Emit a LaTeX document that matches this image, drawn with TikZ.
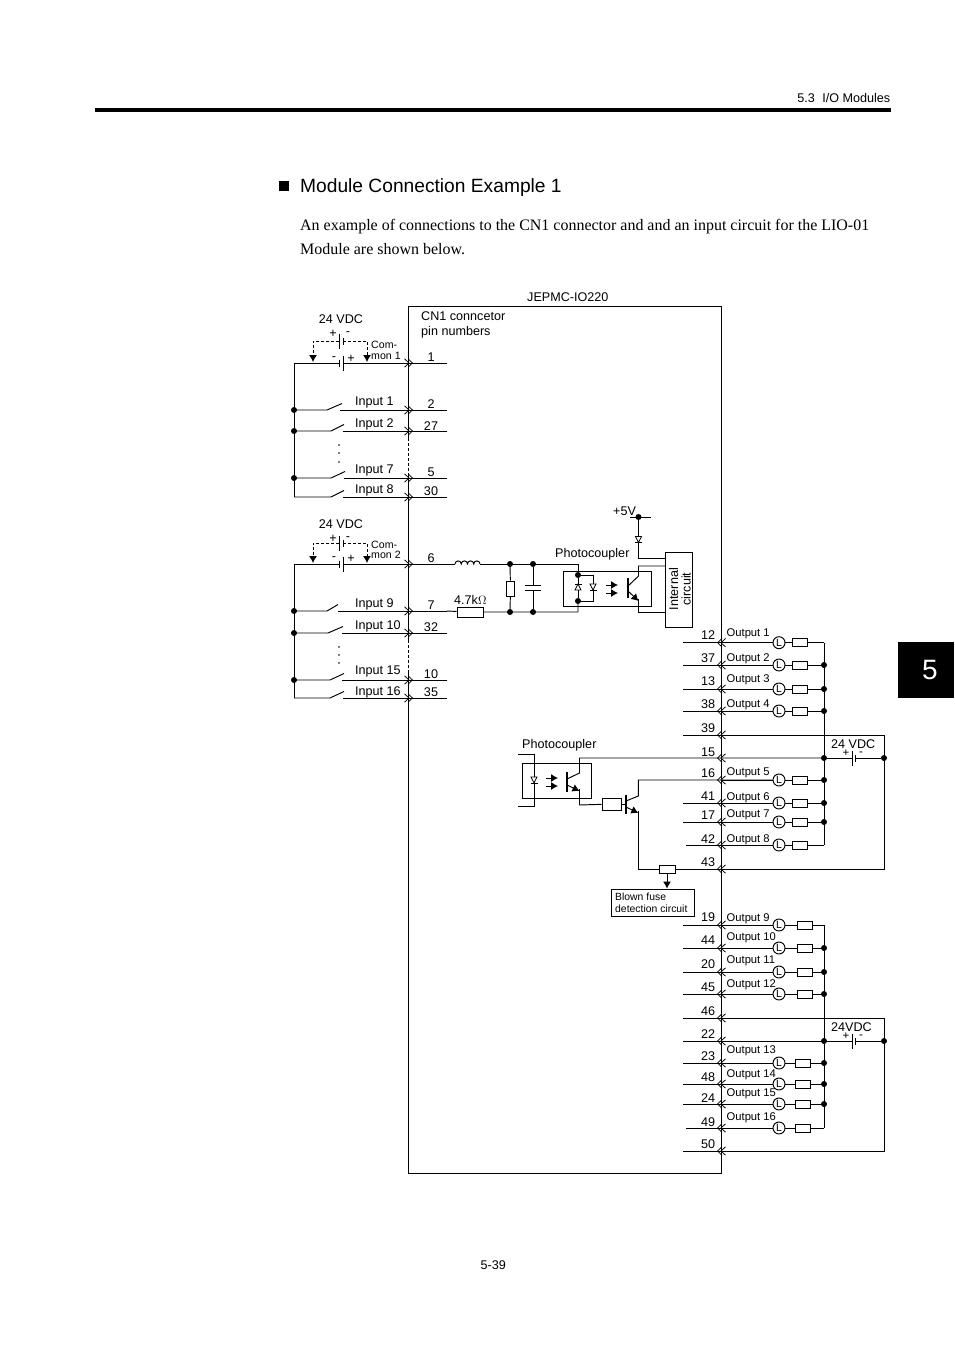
\documentclass[tikz,border=0pt]{standalone}
\usepackage{fontspec}
\setmainfont{Liberation Sans}
\newfontfamily\serifface{Liberation Serif}
\usetikzlibrary{arrows.meta}
\newcommand{\fs}[1]{\fontsize{#1}{#1}\selectfont}
\tikzset{
  wire/.style={line width=0.95pt,line cap=butt,line join=miter},
  dash wire/.style={wire,dash pattern=on 3pt off 2pt},
  lab/.style={inner sep=0pt,yshift=-1pt,font=\fs{12.6}},
  small/.style={inner sep=0pt,yshift=-1pt,font=\fs{11.2}},
  dotn/.style={circle,fill=black,inner sep=0pt,minimum size=6pt},
  fusebox/.style={draw,line width=0.95pt,fill=white,inner sep=0pt,minimum width=15pt,minimum height=8pt},
  lamp/.style={draw,line width=0.95pt,circle,fill=white,inner sep=0pt,minimum size=12pt,font=\fs{10.5}},
  filltip/.style={-{Latex[length=7pt,width=8pt]}},
  dblright/.pic={\draw[line width=0.75pt] (-4,-4.2)--(0.5,0)--(-4,4.2) (-0.5,-4.2)--(4,0)--(-0.5,4.2);},
  dblleft/.pic={\draw[line width=0.75pt] (1,-4.2)--(-3.5,0)--(1,4.2) (4.5,-4.2)--(0,0)--(4.5,4.2);},
  diodeup/.pic={\draw[line width=0.8pt,fill=white] (-3,3)--(3,3)--(0,-3)--cycle; \draw[line width=0.8pt] (-3.5,-3)--(3.5,-3);},
  diodedown/.pic={\draw[line width=0.8pt,fill=white] (-3,-3)--(3,-3)--(0,3)--cycle; \draw[line width=0.8pt] (-3.5,3)--(3.5,3);},
}
\begin{document}
\begin{tikzpicture}[x=1pt,y=-1pt]
\useasboundingbox[fill=white] (0,0) rectangle (954,1351);
% page furniture
\fill (95,108.3) rectangle (890.5,112.3);
\node[anchor=east,inner sep=0pt,yshift=-0.5pt,font=\fs{12.6}] (hdr) at (890.5,97) {5.3\hspace{0.6em}I/O Modules};
\fill (898,642) rectangle (954,698);
\node[inner sep=0pt,text=white,font=\fs{28}] (tab) at (930,670) {5};
\fill (278.5,181) rectangle (288.5,191);
\node[anchor=west,inner sep=0pt,yshift=-1.5pt,font=\fs{19.2}] (title) at (300,186) {Module Connection Example 1};
\node[anchor=west,inner sep=0pt,yshift=-1.5pt,font=\serifface\fs{15.97}] (para1) at (300,225) {An example of connections to the CN1 connector and and an input circuit for the LIO-01};
\node[anchor=west,inner sep=0pt,yshift=-0.5pt,font=\serifface\fs{15.97}] (para2) at (300,249) {Module are shown below.};
\node[anchor=east,inner sep=0pt,font=\fs{12.6}] (foot) at (506,1265) {5-39};
\node[lab,anchor=west] (jepmc) at (527,296) {JEPMC-IO220};
\node[lab,anchor=west] (cn1a) at (421,315) {CN1 conncetor};
\node[lab,anchor=west] (cn1b) at (421,331) {pin numbers};

% module box
\coordinate (bx1) at (408.5,306); \coordinate (bx2) at (721,306);
\coordinate (bx3) at (721,1173); \coordinate (bx4) at (408.5,1173);
\coordinate (bx5) at (408.5,673); \coordinate (bx6) at (408.5,640);
\coordinate (bx7) at (408.5,473); \coordinate (bx8) at (408.5,438);
\draw[wire] (bx8)--(bx1)--(bx2)--(bx3)--(bx4)--(bx5);
\draw[wire] (bx6)--(bx7);
\draw[dash wire] (bx8)--(bx7);
\draw[dash wire] (bx6)--(bx5);

% input rows: name / y / lever start / lever end / stub start / label / label y / pin / pin y
\foreach \n/\y/\xa/\xb/\xc/\tx/\ly/\pn/\py in {
  a/410/327/342/340/Input 1/401/2/403,
  b/431/331/344/343/Input 2/423/27/425,
  c/478/331/345/344/Input 7/469/5/471,
  d/497/331/344/343/Input 8/489/30/490,
  e/611/327/338/338/Input 9/603/7/604,
  f/633/328/343/342/Input 10/625/32/626,
  g/680/330/344/342/Input 15/670/10/673,
  h/698/330/344/343/Input 16/691/35/691}{
  \coordinate (ia\n) at (294,\y);
  \coordinate (ib\n) at (\xa,\y);
  \coordinate (ic\n) at (\xb,\y-6.5);
  \coordinate (id\n) at (\xc,\y);
  \coordinate (ie\n) at (446.5,\y);
  \draw[wire] (ia\n)--(ib\n)--(ic\n);
  \draw[wire] (id\n)--(ie\n);
  \pic at (408.5,\y) {dblright};
  \node[lab,anchor=west] (il\n) at (355,\ly) {\tx};
  \node[lab] (ip\n) at (431,\py) {\pn};
}
\foreach \n in {a,b,c,e,f,g} \node[dotn] (dt\n) at (ia\n) {};

% common rows
\foreach \n/\yl/\yu/\yt/\ya/\yb/\pn/\py/\c/\ycm/\ymn in {
  p/363/341/318.5/333/358/1/356/1/344/355.5,
  q/564/543/523.5/538/558/6/557.5/2/544/554}{
  \coordinate (cs\n) at (294,\yl);
  \coordinate (cl\n) at (339,\yl);
  \coordinate (cr\n) at (343,\yl);
  \coordinate (ce\n) at (446.5,\yl);
  \coordinate (du\n) at (339.3,\yu);
  \coordinate (dv\n) at (343.3,\yu);
  \coordinate (dl\n) at (313,\yu);
  \coordinate (dr\n) at (367,\yu);
  \coordinate (dla\n) at (313,\yl-1);
  \coordinate (dra\n) at (367,\yl-1);
  \draw[wire] (cs\n)--(cl\n) (cr\n)--(ce\n);
  \draw[wire] (339,\yl-3.5)--(339,\yl+3.5);
  \draw[wire] (343,\yl-7.5)--(343,\yl+7.5);
  \draw[wire] (339.3,\yu-7.5)--(339.3,\yu+7.5);
  \draw[wire] (343.3,\yu-3.5)--(343.3,\yu+3.5);
  \draw[dash wire,filltip] (du\n)--(dl\n)--(dla\n);
  \draw[dash wire,filltip] (dv\n)--(dr\n)--(dra\n);
  \pic at (408.5,\yl) {dblright};
  \node[lab] (cv\n) at (341,\yt) {24 VDC};
  \node[lab] (cpa\n) at (333,\ya) {+};
  \node[lab] (cma\n) at (348,\ya) {-};
  \node[lab] (cmb\n) at (334,\yb) {-};
  \node[lab] (cpb\n) at (351,\yb) {+};
  \node[inner sep=0pt,yshift=-0.5pt,font=\fs{10.6},anchor=west] (cca\n) at (371,\ycm) {Com-};
  \node[inner sep=0pt,yshift=-0.5pt,font=\fs{10.6},anchor=west] (ccb\n) at (371,\ymn) {mon \c};
  \node[lab] (cpn\n) at (431,\py) {\pn};
}
\draw[wire] (csp)--(iad);
\draw[wire] (csq)--(iah);
\foreach \n/\y in {a/445,b/453,c/462,d/647,e/655,f/663}
  \fill (339,\y) circle[radius=0.9];

% input circuit
\coordinate (w1) at (455,564); \coordinate (w2) at (480,564);
\coordinate (w3) at (578,564); \coordinate (w4) at (578,612);
\draw[wire] (ceq)--(w1);
\draw[wire] (w1) arc[start angle=180,end angle=360,radius=3.125] arc[start angle=180,end angle=360,radius=3.125]
  arc[start angle=180,end angle=360,radius=3.125] arc[start angle=180,end angle=360,radius=3.125];
\node[dotn] (j1) at (510,564) {};
\node[dotn] (j2) at (533,564) {};
\node[dotn] (j3) at (510,612) {};
\node[dotn] (j4) at (533,612) {};
\node[dotn] (j5) at (578,575) {};
\node[dotn] (j6) at (578,601) {};
\node[draw,line width=0.95pt,fill=white,inner sep=0pt,minimum width=26pt,minimum height=10pt] (r47) at (470,612) {};
\node[draw,line width=0.95pt,fill=white,inner sep=0pt,minimum width=8pt,minimum height=15pt] (r2) at (510.5,588.5) {};
\draw[wire] (w2)--(w3)--(j5);
\draw[wire] (iee)--(r47)--(w4)--(j6);
\draw[wire] (j1)--(r2)--(j3);
\coordinate (c1) at (533,585); \coordinate (c2) at (533,590);
\draw[wire] (j2)--(c1) (c2)--(j4);
\draw[wire] (525,585)--(541,585) (525,590)--(541,590);
\node[lab,anchor=west] (r47t) at (454,599) {4.7k$\Omega$};
\node[lab,anchor=west] (pc1) at (555,553) {Photocoupler};
\draw[wire] (563,571) rectangle (651,606);
\draw[wire] (j5)--(j6);
\coordinate (d2a) at (593,575); \coordinate (d2b) at (593,601);
\draw[wire] (j5)--(d2a)--(d2b)--(j6);
\pic at (578,587) {diodeup};
\pic at (593,587) {diodedown};
\draw[wire,filltip] (606,585)--(618,585);
\draw[wire,filltip] (606,593)--(618,593);
\draw[line width=1.1pt] (628,578)--(628,598);
% internal circuit
\node[draw,line width=0.95pt,fill=white,inner sep=0pt,minimum width=26.5pt,minimum height=75pt] (ic) at (678.75,589.5) {};
\node[inner sep=0pt,font=\fs{12.6},rotate=90] (ict1) at (673.5,589) {Internal};
\node[inner sep=0pt,font=\fs{12.6},rotate=90] (ict2) at (686,589) {circuit};
\coordinate (tc) at (638.5,566); \coordinate (tcr) at (665.5,566);
\coordinate (te) at (638.5,612); \coordinate (ter) at (665.5,612);
\coordinate (tb1) at (628,586); \coordinate (tb2) at (628,591);
\draw[wire] (tb1)--(638.5,576)--(tc)--(tcr);
\draw[wire,filltip] (tb2)--(638.5,601);
\draw[wire] (638.5,599)--(te)--(ter);
\node[dotn] (j5v) at (638.5,517) {};
\coordinate (v5a) at (630,517); \coordinate (v5b) at (651,517);
\draw[wire] (v5a)--(v5b);
\coordinate (v5c) at (638.5,558); \coordinate (v5d) at (665.5,558);
\draw[wire] (j5v)--(v5c)--(v5d);
\pic at (638.5,539.5) {diodedown};
\node[lab,anchor=west] (v5t) at (613,510) {+5V};

% output rows: name / y / pin / pin y / label / label y / fuse centre
\foreach \n/\y/\pn/\py/\tx/\ly/\fc in {
  a/642.7/12/634/Output 1/633/799.5,
  b/665/37/657/Output 2/658/799.5,
  c/689/13/680/Output 3/679/799.5,
  d/711/38/703/Output 4/704/799.5,
  e/780/16/772/Output 5/772/799.5,
  f/803/41/795/Output 6/797/799.5,
  g/822/17/814/Output 7/814/799.5,
  h/845/42/838/Output 8/839/799.5,
  i/925/19/916/Output 9/918/804.5,
  j/948/44/939/Output 10/937/804.5,
  k/972/20/963/Output 11/960/804.5,
  l/994/45/986/Output 12/984/804.5,
  m/1063/23/1055/Output 13/1050/803,
  n/1084/48/1076/Output 14/1074/803,
  o/1104/24/1097/Output 15/1093/803,
  p/1128/49/1121/Output 16/1117/803}{
  \coordinate (os\n) at (683,\y);
  \coordinate (ob\n) at (824,\y);
  \node[lamp] (ol\n) at (779,\y) {L};
  \node[fusebox] (of\n) at (\fc,\y) {};
  \draw[wire] (ol\n)--(of\n)--(ob\n);
  \draw[wire] (721,\y)--(ol\n);
  \pic at (721,\y) {dblleft};
  \node[small,anchor=west] (ot\n) at (726.5,\ly) {\tx};
  \node[lab] (on\n) at (708,\py) {\pn};
}
\foreach \n in {a,b,c,d,f,g,i,j,k,l,m,n,o} \draw[wire] (os\n)--(721,|-os\n);
\coordinate (osh2) at (686,845); \draw[wire] (osh2)--(721,845);
\coordinate (osp2) at (686,1128); \draw[wire] (osp2)--(721,1128);
% buses and supplies
\foreach \n/\top/\bot/\lt/\lm/\lb/\tt/\ty/\pa/\pb/\pc/\pd/\pe in {
  s/oba/obh/735/758/869/24 VDC/743.5/39/727/15/751/43,
  t/obi/obp/1018/1041/1151/24VDC/1026.5/46/1010/22/1033/50}{
  \draw[wire] (\top)--(\bot);
  \coordinate (lpA\n) at (683,\lt);
  \coordinate (lpB\n) at (884,\lt);
  \coordinate (lpC\n) at (884,\lb);
  \coordinate (lpD\n) at (721,\lb);
  \draw[wire] (lpA\n)--(lpB\n)--(lpC\n)--(lpD\n);
  \node[dotn] (bl\n) at (824,\lm) {};
  \node[dotn] (br\n) at (884,\lm) {};
  \coordinate (bt\n) at (852,\lm); \coordinate (bu\n) at (855.3,\lm);
  \draw[wire] (bl\n)--(bt\n) (bu\n)--(br\n);
  \draw[wire] (852,\lm-7.5)--(852,\lm+7.5);
  \draw[wire] (855.3,\lm-3.5)--(855.3,\lm+3.5);
  \node[lab,anchor=west] (bv\n) at (831,\ty) {\tt};
  \node[inner sep=0pt,font=\fs{11.5}] (bp\n) at (846,\ty+10) {+};
  \node[inner sep=0pt,font=\fs{11.5}] (bm\n) at (861,\ty+10) {-};
  \pic at (721,\lt) {dblleft};
  \pic at (721,\lm) {dblleft};
  \pic at (721,\lb) {dblleft};
  \node[lab] (pna\n) at (708,\pb) {\pa};
  \node[lab] (pnb\n) at (708,\pd) {\pc};
  \node[lab] (pnc\n) at (708,\lb-8) {\pe};
}
\foreach \n in {b,c,d,e,f,g,j,k,l,m,n,o} \node[dotn] (dot\n) at (ob\n) {};
\coordinate (s22) at (683,1041); \draw[wire] (s22)--(blt);
\coordinate (s50) at (683,1151); \draw[wire] (s50)--(lpDt);

% output circuit
\node[lab,anchor=west] (pc2) at (522,744) {Photocoupler};
\draw[wire] (522,763) rectangle (591,798);
\coordinate (q1) at (518,754); \coordinate (q2) at (534,754);
\coordinate (q3) at (534,806); \coordinate (q4) at (518,806);
\draw[wire] (q1)--(q2)--(q3)--(q4);
\pic at (534,780) {diodedown};
\draw[wire,filltip] (546,778)--(558,778);
\draw[wire,filltip] (546,786)--(558,786);
\draw[line width=1.1pt] (567,772)--(567,792);
\coordinate (oc1) at (579.5,758);
\draw[wire] (567,779)--(579.5,773)--(oc1)--(bls);
\draw[wire,filltip] (567,785)--(579.5,791);
\node[draw,line width=0.95pt,fill=white,inner sep=0pt,minimum width=19pt,minimum height=12pt] (rb) at (611.5,804) {};
\coordinate (oe1) at (579.5,805);
\draw[wire] (579.5,789)--(oe1)--(rb);
\coordinate (ob0) at (626,804);
\draw[wire] (rb)--(ob0);
\draw[line width=1.1pt] (626,795)--(626,814);
\coordinate (oq1) at (638.3,780); \coordinate (oq3) at (638.3,869);
\draw[wire] (626,801)--(638.3,796)--(oq1)--(ole);
\draw[wire,filltip] (626,807)--(638.3,813);
\node[fusebox,minimum width=16pt] (ff) at (667,869) {};
\draw[wire] (638.3,811)--(oq3)--(ff);
\draw[wire] (ff)--(lpDs);
\node[draw,line width=0.95pt,fill=white,inner sep=0pt,minimum width=83pt,minimum height=27pt] (bf) at (652.5,902.5) {};
\draw[wire,filltip] (ff.south)--(ff.south |- bf.north);
\node[inner sep=0pt,anchor=west,font=\fs{10.4}] (bf1) at (615,896.5) {Blown fuse};
\node[inner sep=0pt,anchor=west,font=\fs{10.4}] (bf2) at (615,908.5) {detection circuit};
\end{tikzpicture}
\end{document}
